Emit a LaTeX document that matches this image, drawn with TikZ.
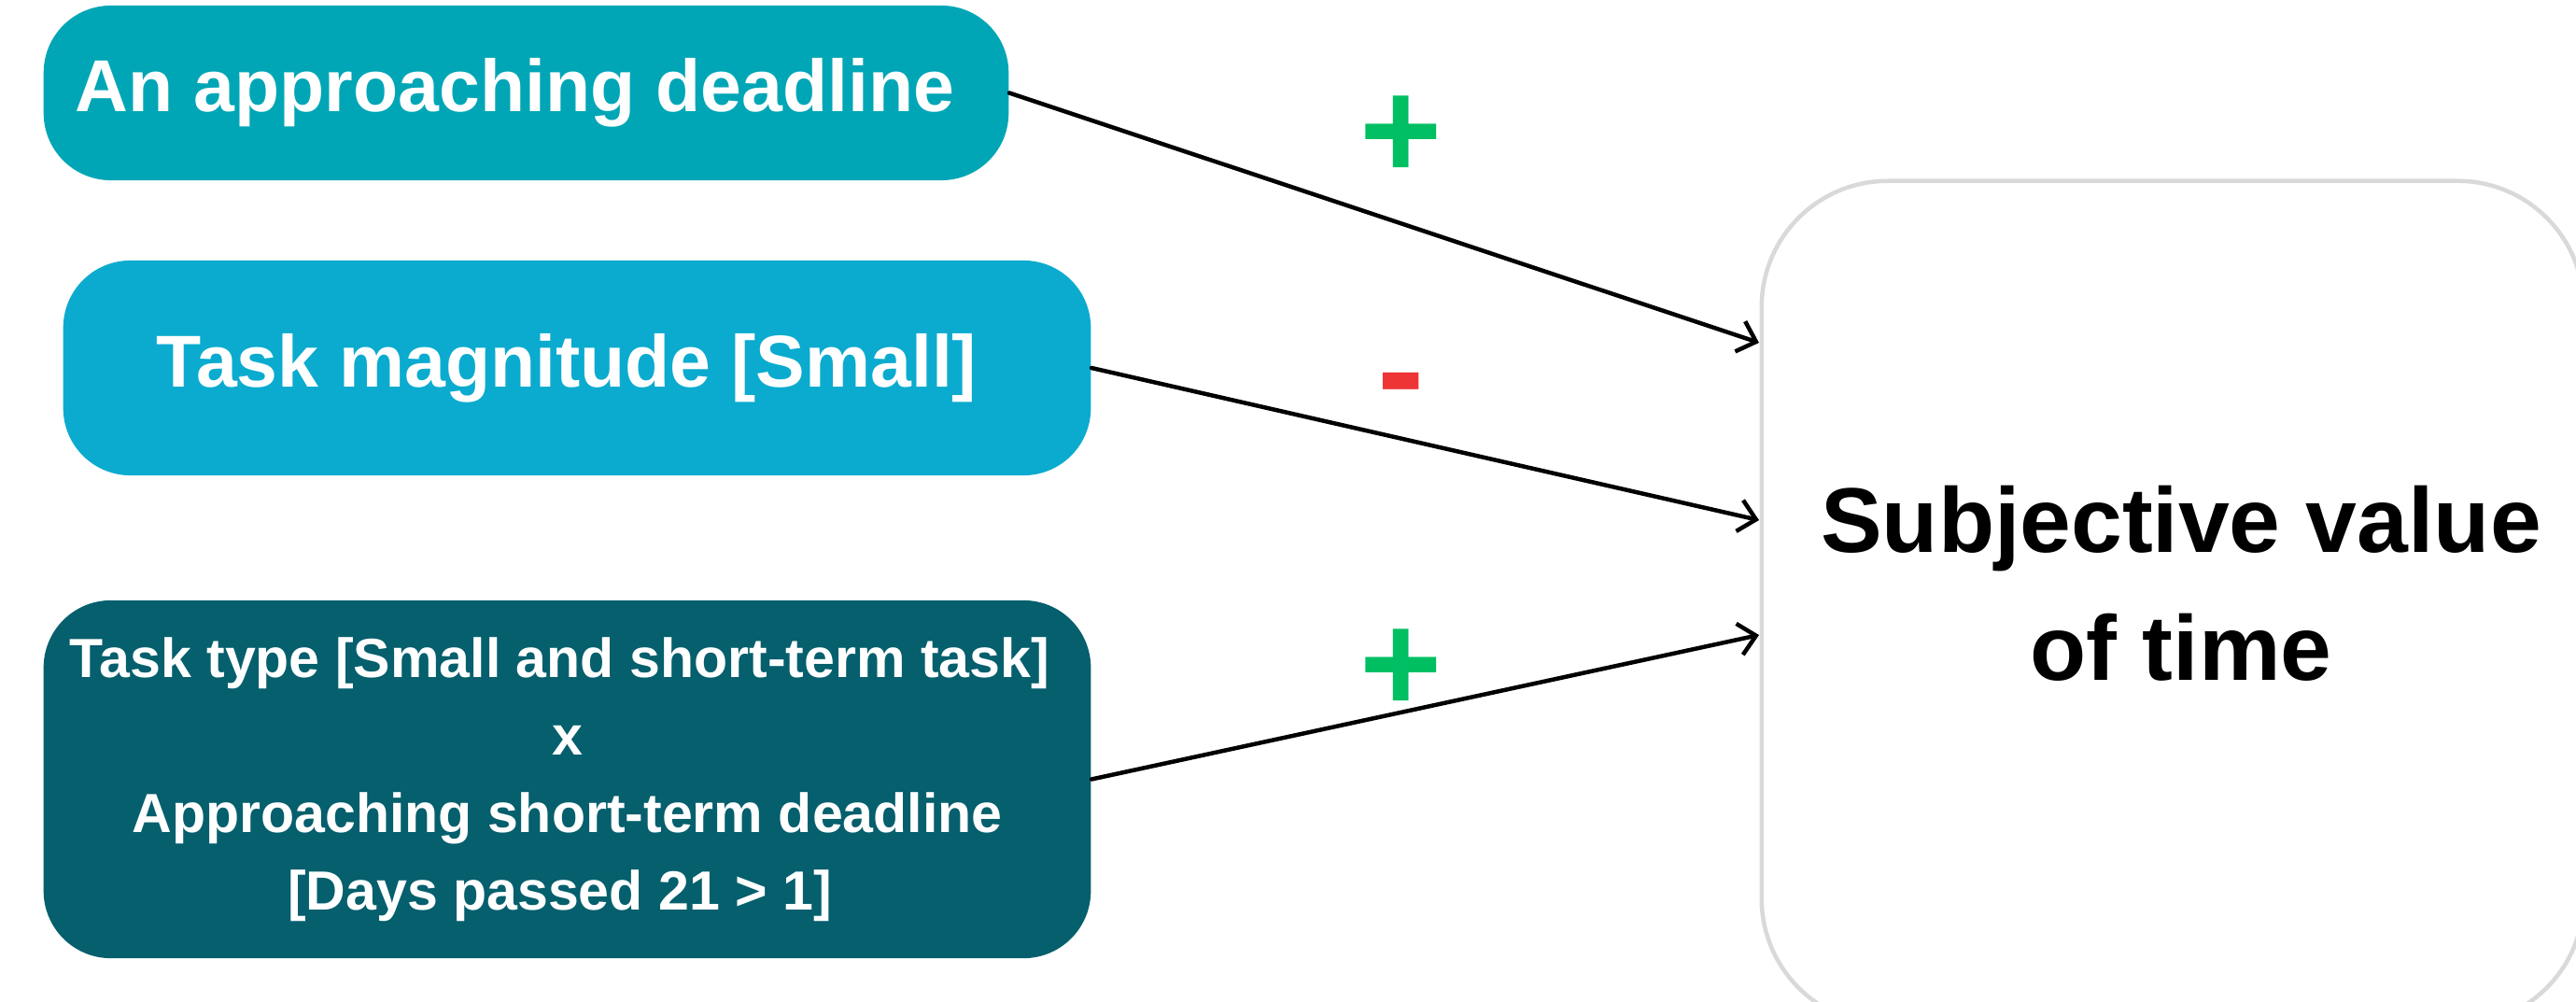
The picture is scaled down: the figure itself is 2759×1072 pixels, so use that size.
\documentclass[tikz,border=0pt]{standalone}
\usepackage{fontspec}
\setmainfont{Liberation Sans}
\usetikzlibrary{arrows.meta}

\definecolor{deadlinefill}{HTML}{00A6B6}
\definecolor{magnitudefill}{HTML}{0BABCF}
\definecolor{interactfill}{HTML}{055F6D}
\definecolor{outcomeline}{HTML}{D9D9D9}
\definecolor{posgreen}{HTML}{00BF63}
\definecolor{negred}{HTML}{EE3434}

% pad a line on the right so that it sits a little left of centre
\newcommand{\leftpad}[1]{#1\hspace*{0.16cm}}

\begin{document}
\begin{tikzpicture}[x=0.01cm, y=-0.01cm,
  factor/.style={rectangle, rounded corners=0.72cm, text=white, inner sep=0pt,
    align=center},
  bigtext/.style={font=\fontsize{22.4pt}{27pt}\selectfont\bfseries},
  smalltext/.style={font=\fontsize{16.8pt}{23.6pt}\selectfont\bfseries},
  outcome/.style={rectangle, rounded corners=1.35cm, draw=outcomeline,
    line width=0.045cm, fill=white, inner sep=0pt},
  outcometext/.style={font=\fontsize{28pt}{39pt}\selectfont\bfseries,
    align=center, inner sep=0pt},
  link/.style={draw=black, line width=0.045cm, line cap=round, line join=round,
    -{Straight Barb[length=0.18cm, width=0.34cm, line width=0.045cm]}},
  sign/.style={font=\fontsize{43pt}{43pt}\selectfont\bfseries, inner sep=0pt}
]
\useasboundingbox (0,0) rectangle (2759,1072);

% input factors
\node[factor, bigtext, fill=deadlinefill, minimum width=10.33cm,
  minimum height=1.87cm] (deadline) at (563.5,99.5)
  {An approaching deadline\hspace*{0.24cm}};
\node[factor, bigtext, fill=magnitudefill, minimum width=11.0cm,
  minimum height=2.30cm] (magnitude) at (618,394)
  {Task magnitude [Small]\hspace*{0.22cm}};
\node[factor, smalltext, fill=interactfill, minimum width=11.21cm,
  minimum height=3.83cm] (interaction) at (607.5,834.5)
  {\leftpad{Task type [Small and short-term task]}\\\leftpad{x}\\
   \leftpad{Approaching short-term deadline}\\\leftpad{[Days passed 21 > 1]}};

% outcome box, running off the right and bottom edges
\node[outcome, minimum width=8.8cm, minimum height=9.03cm] (value) at (2327,645.5) {};
\node[outcometext] (valuetext) at (2336,625) {Subjective value\\of time};

% arrow end points on the outcome's left side
\coordinate (in1) at (1884,367);
\coordinate (in2) at (1884,557);
\coordinate (in3) at (1884,680);

\draw[link] (deadline.east) -- (in1);
\draw[link] (magnitude.east) -- (in2);
\draw[link] (interaction.east) -- (in3);

% effect signs
\node[sign, text=posgreen] (sign1) at (1501,147) {+};
\node[sign, text=negred] (sign2) at (1501,423) {-};
\node[sign, text=posgreen] (sign3) at (1501,718) {+};
\end{tikzpicture}
\end{document}
